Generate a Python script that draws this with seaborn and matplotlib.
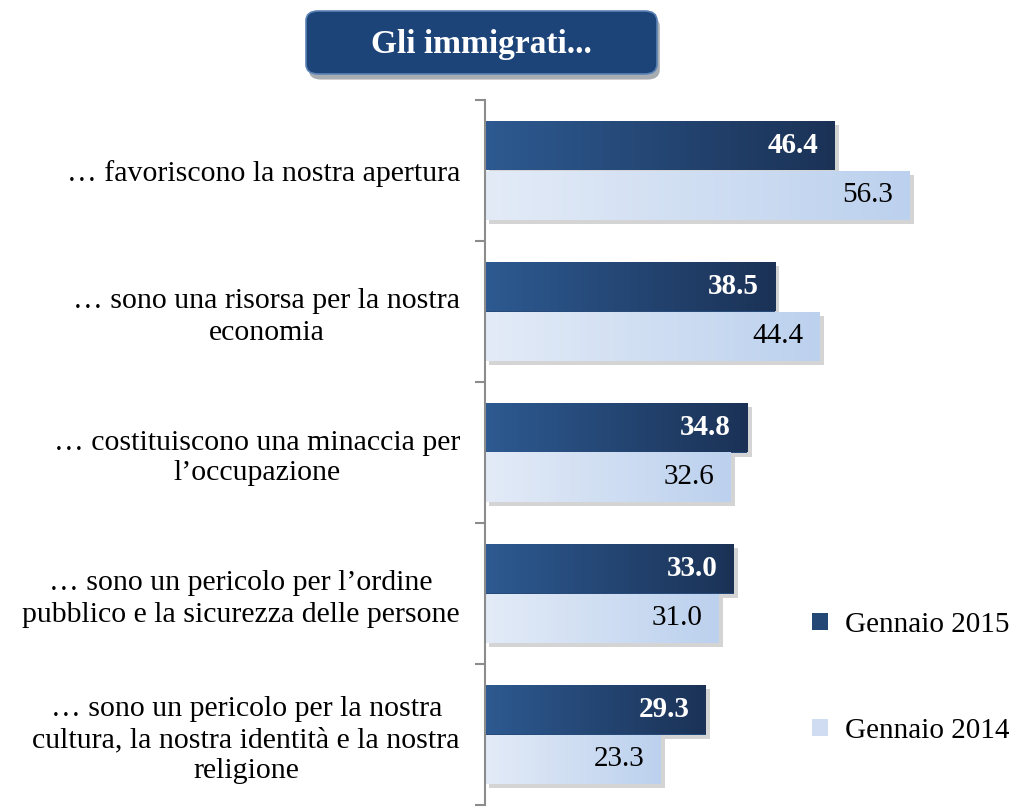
import numpy as np
import pandas as pd
import matplotlib
matplotlib.use("Agg")
import matplotlib.pyplot as plt
import matplotlib.patheffects as pe
from matplotlib.patches import FancyBboxPatch, Rectangle
from matplotlib.colors import LinearSegmentedColormap
import seaborn as sns

# --- data ---
categories = [
    "… favoriscono la nostra apertura",
    "… sono una risorsa per la nostra\neconomia",
    "… costituiscono una minaccia per\nl’occupazione",
    "… sono un pericolo per l’ordine\npubblico e la sicurezza delle persone",
    "… sono un pericolo per la nostra\ncultura, la nostra identità e la nostra\nreligione",
]
series = ["Gennaio 2015", "Gennaio 2014"]
values_2015 = [46.4, 38.5, 34.8, 33.0, 29.3]
values_2014 = [56.3, 44.4, 32.6, 31.0, 23.3]
title = "Gli immigrati..."

df = pd.DataFrame({
    "categoria": categories * 2,
    "valore": values_2015 + values_2014,
    "serie": [series[0]] * 5 + [series[1]] * 5,
})

# gradients roughly matching the office-style fills
dark_cmap = LinearSegmentedColormap.from_list("dark", ["#2d5a91", "#1b3256"])
light_cmap = LinearSegmentedColormap.from_list("light", ["#e3ebf7", "#bcd1ee"])
palette = {series[0]: "#264a7a", series[1]: "#d3e0f3"}

sns.set_style("white")
plt.rcParams["font.family"] = ["Liberation Serif", "DejaVu Serif"]
plt.rcParams["text.color"] = "black"
plt.rcParams["ytick.color"] = "#8c8c8c"
plt.rcParams["ytick.labelcolor"] = "black"

fig = plt.figure(figsize=(10.17, 8.07), dpi=100)
ax = fig.add_axes([485 / 1017, 2 / 807, 510 / 1017, 705 / 807])

sns.barplot(data=df, x="valore", y="categoria", hue="serie", orient="h",
            palette=palette, width=0.7, ax=ax, legend=False, saturation=1)

ax.set_xlim(0, 510 / 7.54)
ax.set_ylim(len(categories) - 0.5, -0.5)

# gradient overlay + shadow on every bar
for container, cmap, txt_color, weight in zip(
        ax.containers, [dark_cmap, light_cmap], ["white", "black"], ["bold", "normal"]):
    for bar, val in zip(container, container.datavalues):
        bar.set_edgecolor("none")
        bar.set_path_effects([pe.SimplePatchShadow(offset=(3, -3), alpha=0.25, shadow_rgbFace="#555555"),
                              pe.Normal()])
        x0, y0 = bar.get_x(), bar.get_y()
        w, h = bar.get_width(), bar.get_height()
        grad = np.linspace(0, 1, 256).reshape(1, -1)
        im = ax.imshow(grad, cmap=cmap, aspect="auto", extent=(x0, x0 + w, y0 + h, y0),
                       zorder=bar.get_zorder() + 0.1)
        im.set_clip_path(bar)
        ax.text(val - 2.2, y0 + h / 2, f"{val:.1f}", ha="right", va="center",
                color=txt_color, fontsize=21, fontweight=weight, zorder=5)

ax.set_xlim(0, 510 / 7.54)
ax.set_ylim(len(categories) - 0.5, -0.5)

# axes cosmetics
for side in ["top", "right", "bottom"]:
    ax.spines[side].set_visible(False)
ax.spines["left"].set_color("#8c8c8c")
ax.spines["left"].set_linewidth(1.5)
ax.set_xticks([])
ax.set_xlabel("")
ax.set_ylabel("")
ax.set_yticks(range(len(categories)))
ax.set_yticklabels(categories, fontsize=21.5, multialignment="center", linespacing=1.25)
ax.tick_params(axis="y", which="major", length=0, pad=18)
ax.set_yticks(np.arange(-0.5, len(categories), 1), minor=True)
ax.tick_params(axis="y", which="minor", left=True, length=7, width=1.5,
               color="#8c8c8c", direction="out")

# legend
handles = [Rectangle((0, 0), 1, 1, fc=palette[s], ec="none") for s in series]
handles[0].set_facecolor("#244776")
handles[1].set_facecolor("#cfdcf1")
fig.legend(handles, series, loc="upper left", bbox_to_anchor=(800 / 1017, 1 - 600 / 807),
           frameon=False, fontsize=21, handlelength=0.55, handleheight=0.55,
           handletextpad=0.6, labelspacing=2.75, borderaxespad=0)

# title box
box = FancyBboxPatch((306 / 1017, 1 - 74 / 807), 351 / 1017, 63 / 807,
                     boxstyle="round,pad=0,rounding_size=0.012", transform=fig.transFigure,
                     fc="#1c4479", ec="#5b82b5", lw=1.2,
                     path_effects=[pe.SimplePatchShadow(offset=(2, -4), alpha=0.35), pe.Normal()])
fig.patches.append(box)
fig.text(481 / 1017, 1 - 44 / 807, title, ha="center", va="center", color="white",
         fontsize=24, fontweight="bold")

fig.savefig("out.png", dpi=100)
